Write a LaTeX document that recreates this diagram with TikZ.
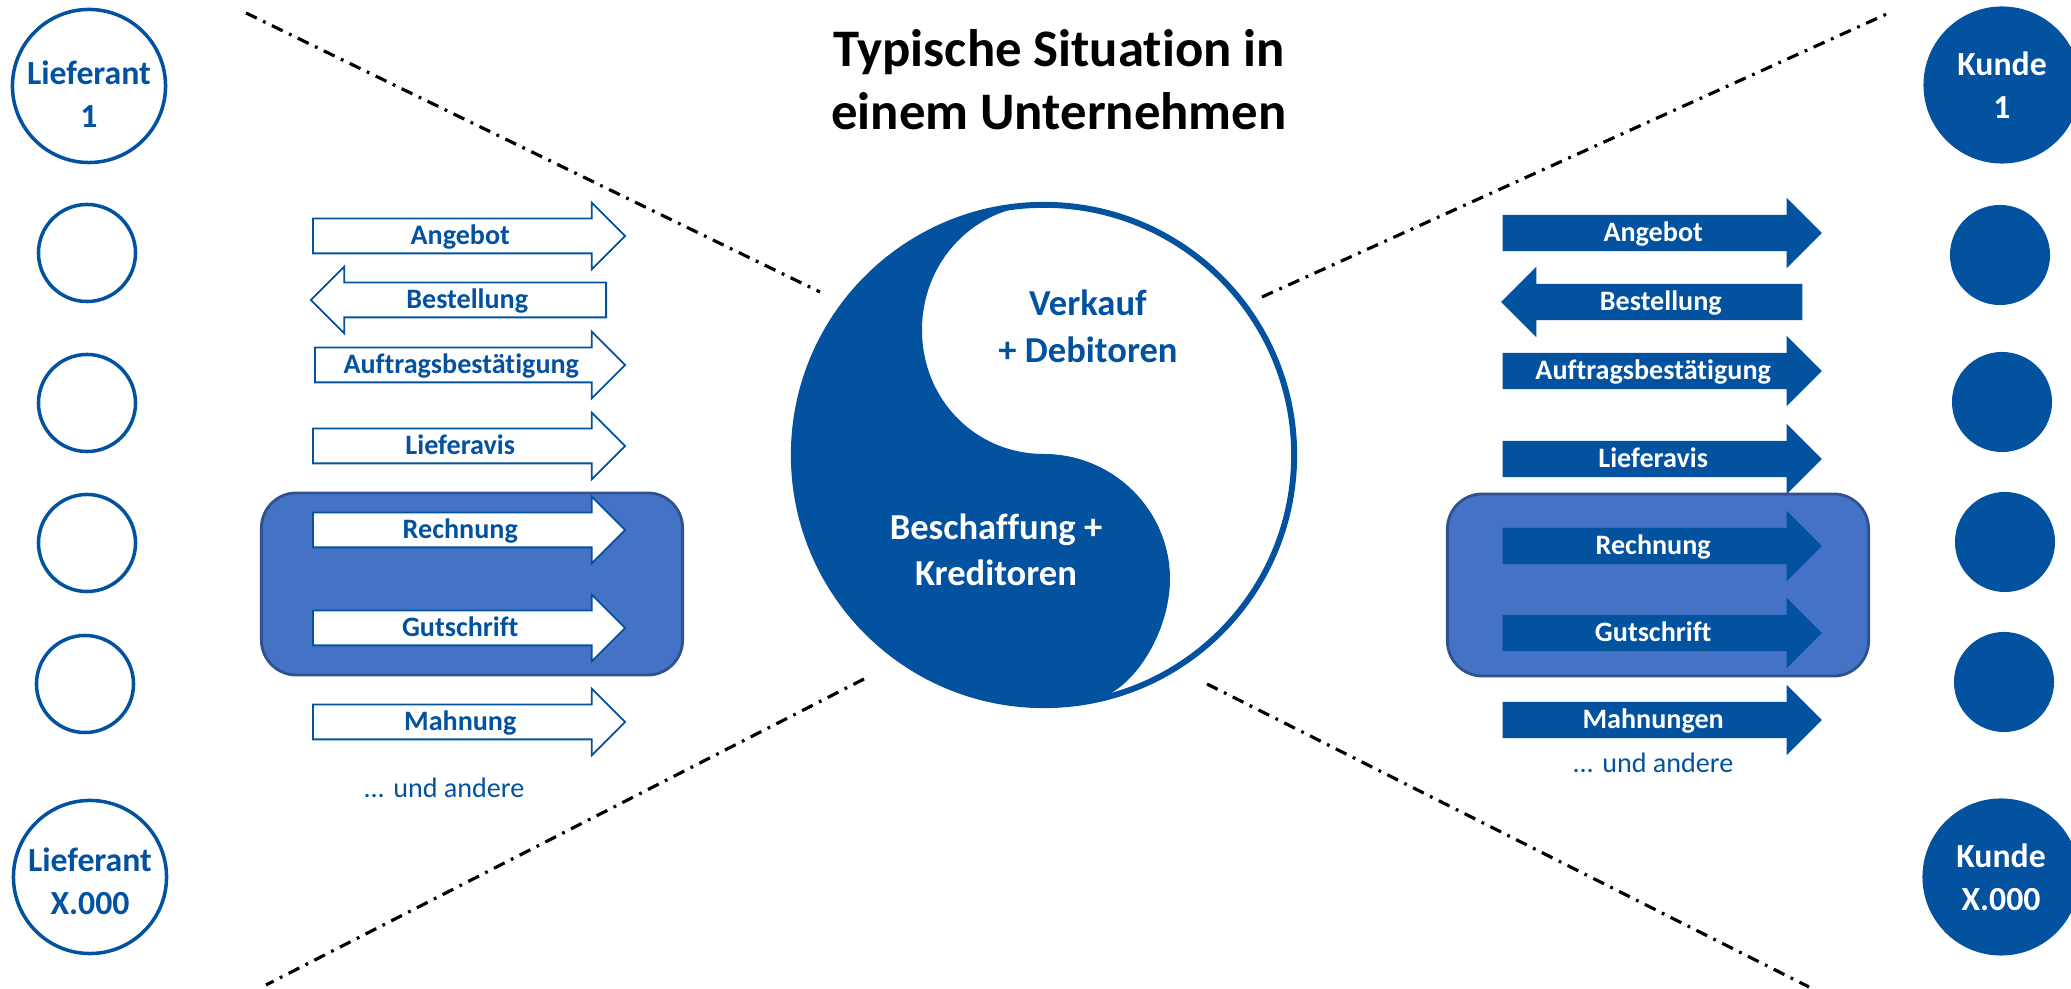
\documentclass[tikz,border=0pt]{standalone}
\usepackage{fontspec}
\setmainfont{Carlito}[Ligatures=NoCommon]
\usetikzlibrary{shapes.arrows}

\definecolor{dunkelblau}{RGB}{3,82,160}
\definecolor{kastenblau}{RGB}{68,114,196}
\definecolor{kastenrand}{RGB}{47,82,143}

\tikzset{
    lieftext/.style={text=dunkelblau,align=center,inner sep=0pt,
        font=\fontsize{9.6}{12.2}\selectfont\bfseries},
    lief/.style={lieftext,circle,draw=dunkelblau,line width=1pt,minimum size=1.53cm},
    kunde/.style={circle,fill=dunkelblau,inner sep=0pt,minimum size=1.57cm,
        text=white,align=center,font=\fontsize{9.6}{12.2}\selectfont\bfseries},
    leer/.style={circle,draw=dunkelblau,line width=1pt,inner sep=0pt,minimum size=0.97cm},
    voll/.style={circle,fill=dunkelblau,inner sep=0pt,minimum size=1cm},
    pfeil/.style={single arrow,inner xsep=0pt,inner ysep=0pt,anchor=tail,
        font=\fontsize{8}{9.6}\selectfont\bfseries},
    pfeilL/.style={pfeil,draw=dunkelblau,line width=0.5pt,fill=white,text=dunkelblau,
        text height=0.25cm,text depth=0.08cm,single arrow head extend=0.16cm,
        minimum height=3.12cm},
    pfeilR/.style={pfeil,fill=dunkelblau,text=white,
        text height=0.26cm,text depth=0.09cm,single arrow head extend=0.17cm,
        minimum height=3.19cm},
    zurueck/.style={shape border rotate=180},
    kasten/.style={draw=kastenrand,line width=0.8pt,fill=kastenblau,
        rounded corners=0.35cm,minimum width=4.21cm,minimum height=1.82cm},
    trenn/.style={line width=0.9pt,dash pattern=on 3.4pt off 2pt on 0.8pt off 2pt},
    weiter/.style={text=dunkelblau,anchor=base,font=\fontsize{8}{9.6}\selectfont}
}

\begin{document}
\begin{tikzpicture}[x=0.01cm,y=-0.01cm]
                \useasboundingbox (0,0) rectangle (2071,989);

                \draw[trenn] (246,13) -- (820,292);
                \draw[trenn] (1262,297) -- (1889,13);
                \draw[trenn] (864,679) -- (266,985);
                \draw[trenn] (1207,684) -- (1809,987);

                \node[font=\fontsize{15}{17.9}\selectfont\bfseries,align=center]
                    (titel) at (1059,80) {Typische Situation in\\einem Unternehmen};

                \fill[dunkelblau]
                    (1044,205) arc[start angle=270,end angle=77.6,radius=250]
                    .. controls (1137,687) and (1170,629) .. (1170,579)
                    .. controls (1170,510) and (1113,454) .. (1044,454)
                    .. controls (975,454) and (922,399) .. (922,330)
                    .. controls (922,261) and (975,205) .. (1044,205) -- cycle;
                \node[circle,draw=dunkelblau,line width=1.7pt,minimum size=5cm,inner sep=0pt]
                    (unternehmen) at (1044,455) {};
                \node[text=dunkelblau,align=center,font=\fontsize{10.4}{13.4}\selectfont\bfseries]
                    (verkauf) at (1088,326) {Verkauf\\+ Debitoren};
                \node[text=white,align=center,font=\fontsize{10.4}{13.1}\selectfont\bfseries]
                    (beschaffung) at (996,550) {Beschaffung +\\Kreditoren};

                \node[lief] (lief1) at (89,86) {};
                \node[lieftext] (lief1text) at (89,94) {Lieferant\\1};
                \node[leer] (lief2) at (87,253) {};
                \node[leer] (lief3) at (87,403) {};
                \node[leer] (lief4) at (87,543) {};
                \node[leer] (lief5) at (85,684) {};
                \node[lief] (liefX) at (90,877) {};
                \node[lieftext] (liefXtext) at (90,881) {Lieferant\\X.000};

                \node[kunde] (kunde1) at (2002,85) {Kunde\\1};
                \node[voll] (kunde2) at (2000,255) {};
                \node[voll] (kunde3) at (2002,402) {};
                \node[voll] (kunde4) at (2005,542) {};
                \node[voll] (kunde5) at (2004,682) {};
                \node[kunde] (kundeX) at (2001,877) {Kunde\\X.000};

                \node[kasten] (kastenL) at (472,584) {};
                \node[kasten] (kastenR) at (1658,585) {};

                \node[pfeilL] (angebotL) at (312,236) {Angebot};
                \node[pfeilL,zurueck,minimum height=2.95cm] (bestellungL) at (607,300) {Bestellung};
                \node[pfeilL,minimum height=3.10cm] (auftragL) at (314,365) {Auftragsbestätigung};
                \node[pfeilL] (avisL) at (312,446) {Lieferavis};
                \node[pfeilL] (rechnungL) at (312,530) {Rechnung};
                \node[pfeilL] (gutschriftL) at (312,628) {Gutschrift};
                \node[pfeilL] (mahnungL) at (312,722) {Mahnung};
                \node[weiter] (andereL) at (444,798) {... und andere};

                \node[pfeilR] (angebotR) at (1502,233) {Angebot};
                \node[pfeilR,zurueck,minimum height=3.01cm] (bestellungR) at (1803,302) {Bestellung};
                \node[pfeilR] (auftragR) at (1502,371) {Auftragsbestätigung};
                \node[pfeilR] (avisR) at (1502,459) {Lieferavis};
                \node[pfeilR] (rechnungR) at (1502,546) {Rechnung};
                \node[pfeilR] (gutschriftR) at (1502,633) {Gutschrift};
                \node[pfeilR] (mahnungR) at (1502,720) {Mahnungen};
                \node[weiter] (andereR) at (1653,773) {... und andere};
            \end{tikzpicture}
\end{document}
